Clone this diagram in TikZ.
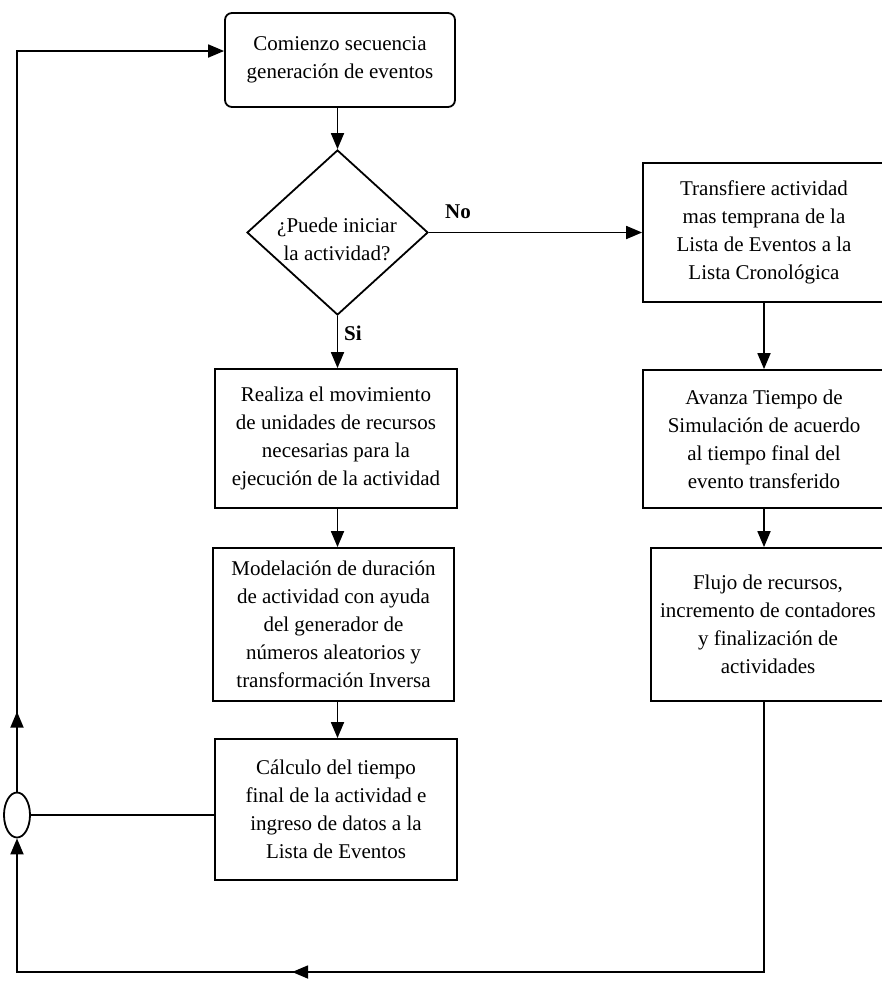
\documentclass[tikz,border=0pt]{standalone}
\usepackage{fontspec}
\setmainfont{Liberation Serif}
\usetikzlibrary{shapes.geometric,arrows.meta,decorations.markings,calc}
\begin{document}
\begin{tikzpicture}[x=1pt,y=-1pt,
  every node/.style={font=\fontsize{21}{28}\selectfont},
  box/.style={draw, line width=1.8pt, align=center, inner sep=0pt},
  conn/.style={line width=1.8pt},
  arr/.style={conn, -{Triangle[length=16pt,width=13pt]}},
  midarr/.style={postaction={decorate}, decoration={markings, mark=at position #1 with {\arrow{Triangle[length=16pt,width=13pt]}}}},
  lab/.style={font=\fontsize{21}{28}\selectfont\bfseries}]
\useasboundingbox (0,0) rectangle (882,983);
\clip (0,0) rectangle (882,983);

% left column
\node[box, rounded corners=7pt, minimum width=230pt, minimum height=94pt] (start) at (340,60)
  {Comienzo secuencia\\generación de eventos};
\node[draw, line width=1.8pt, diamond, minimum width=181pt, minimum height=165pt, inner sep=0pt] (dec) at (337.5,232.5) {};
\node[align=center] (dectext) at (337,239) {¿Puede iniciar\\la actividad?};
\node[box, minimum width=242pt, minimum height=139pt] (realiza) at (336,438.5)
  {Realiza el movimiento\\de unidades de recursos\\necesarias para la\\ejecución de la actividad};
\node[box, minimum width=241pt, minimum height=153pt] (model) at (333.5,624.5)
  {Modelación de duración\\de actividad con ayuda\\del generador de\\números aleatorios y\\transformación Inversa};
\node[box, minimum width=242pt, minimum height=141pt] (calc) at (336,809.5)
  {Cálculo del tiempo\\final de la actividad e\\ingreso de datos a la\\Lista de Eventos};
\node[draw, line width=1.8pt, ellipse, minimum width=26pt, minimum height=45pt, inner sep=0pt] (join) at (17,815) {};

% right column
\node[box, minimum width=242pt, minimum height=139pt] (transf) at (764,232.5)
  {Transfiere actividad\\mas temprana de la\\Lista de Eventos a la\\Lista Cronológica};
\node[box, minimum width=242pt, minimum height=138pt] (avanza) at (764,439)
  {Avanza Tiempo de\\Simulación de acuerdo\\al tiempo final del\\evento transferido};
\node[box, minimum width=234pt, minimum height=153pt] (flujo) at (768,624.5)
  {Flujo de recursos,\\incremento de contadores\\y finalización de\\actividades};

\coordinate (topleft) at (17,51);
\coordinate (botright) at (764,972);
\coordinate (botleft) at (17,972);

% connectors
\draw[arr] (start.south -| dec.north) -- (dec.north);
\draw[arr] (dec.south) -- (realiza.north -| dec.south);
\draw[arr] (realiza.south -| dec.south) -- (model.north -| dec.south);
\draw[arr] (model.south -| dec.south) -- (calc.north -| dec.south);
\draw[arr] (dec.east) -- (transf.west |- dec.east);
\draw[arr] (transf.south -| botright) -- (avanza.north -| botright);
\draw[arr] (avanza.south -| botright) -- (flujo.north -| botright);
\draw[conn] (join.east) -- (join.east -| calc.west);
\draw[arr, midarr=80pt] (join.north) -- (topleft) -- (topleft -| start.west);
\draw[arr, midarr=742pt] (flujo.south -| botright) -- (botright) -- (botleft) -- (join.south);

\node[lab] (no) at (458,212) {No};
\node[lab] (si) at (353,333) {Si};
\end{tikzpicture}
\end{document}
